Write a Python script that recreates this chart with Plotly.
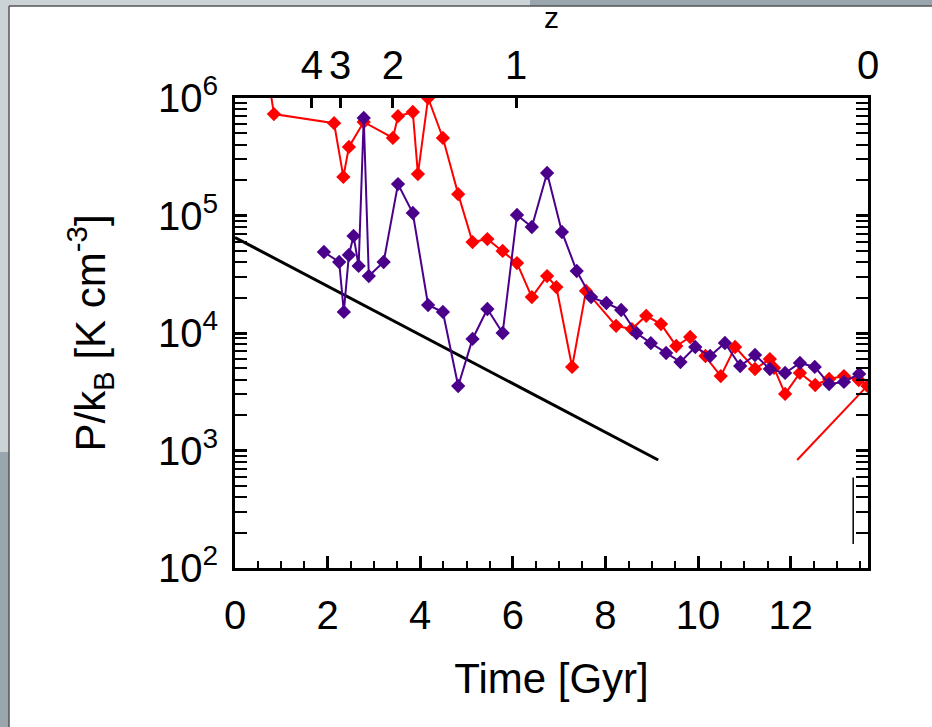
import plotly.graph_objects as go

# ---- data ----
t_red = [0.70, 0.84, 2.14, 2.34, 2.46, 2.78, 3.41, 3.52, 3.84, 3.95, 4.17, 4.49, 4.82, 5.13,
         5.45, 5.78, 6.09, 6.41, 6.74, 6.94, 7.28, 7.58, 8.23, 8.57, 8.88, 9.20, 9.53, 9.83,
         10.16, 10.49, 10.80, 11.23, 11.55, 11.64, 11.88, 12.20, 12.53, 12.83, 13.15, 13.47, 13.66]
p_red = [1.7e6, 7.3e5, 6.1e5, 2.13e5, 3.83e5, 6.25e5, 4.57e5, 7.0e5, 7.6e5, 2.25e5, 1.0e6, 4.57e5,
         1.52e5, 5.94e4, 6.3e4, 4.99e4, 3.94e4, 2.02e4, 3.05e4, 2.46e4, 5.14e3, 2.28e4, 1.15e4,
         1.08e4, 1.40e4, 1.19e4, 7.75e3, 9.25e3, 6.37e3, 4.3e3, 7.6e3, 4.94e3, 6.0e3, 5.04e3,
         3.03e3, 4.57e3, 3.61e3, 4.06e3, 4.3e3, 3.98e3, 3.54e3]

t_purple = [1.92, 2.25, 2.35, 2.46, 2.56, 2.67, 2.78, 2.89, 3.21, 3.52, 3.84, 4.17, 4.49, 4.82,
            5.13, 5.45, 5.78, 6.09, 6.41, 6.74, 7.06, 7.38, 7.69, 8.02, 8.34, 8.67, 8.98, 9.31,
            9.62, 9.94, 10.26, 10.58, 10.91, 11.23, 11.55, 11.88, 12.20, 12.52, 12.83, 13.15, 13.48]
p_purple = [4.89e4, 4.02e4, 1.51e4, 4.61e4, 6.7e4, 3.72e4, 6.76e5, 3.05e4, 4.02e4, 1.85e5, 1.05e5,
            1.73e4, 1.51e4, 3.54e3, 8.9e3, 1.6e4, 1.0e4, 1.01e5, 7.98e4, 2.3e5, 7.24e4, 3.37e4,
            2.02e4, 1.8e4, 1.57e4, 1.0e4, 8.2e3, 6.76e3, 5.66e3, 7.6e3, 6.37e3, 8.22e3, 5.24e3,
            6.5e3, 4.94e3, 4.57e3, 5.56e3, 5.14e3, 3.68e3, 3.83e3, 4.48e3]

t_black = [0.0, 9.14]
p_black = [6.5e4, 8.3e2]

t_redseg = [12.14, 13.67]
p_redseg = [8.3e2, 3.6e3]

t_vert = [13.35, 13.35]
p_vert = [5.9e2, 1.6e2]

z_ticks_t = [1.66, 2.27, 3.41, 6.07, 13.67]
z_labels = ["4", "3", "2", "1", "0"]

x_tickvals = [0, 2, 4, 6, 8, 10, 12]
y_tickvals = [1e2, 1e3, 1e4, 1e5, 1e6]
y_ticktext = ["10<sup>2</sup>", "10<sup>3</sup>", "10<sup>4</sup>", "10<sup>5</sup>", "10<sup>6</sup>"]

x_range = [0, 13.67]
y_range_log = [2, 6]

FONT = "Liberation Sans"

fig = go.Figure()
fig.add_trace(go.Scatter(x=t_black, y=p_black, mode="lines",
                         line=dict(color="black", width=3), showlegend=False))
fig.add_trace(go.Scatter(x=t_red, y=p_red, mode="lines+markers",
                         line=dict(color="#ff0000", width=2),
                         marker=dict(symbol="diamond", size=11, color="#ff0000"),
                         showlegend=False))
fig.add_trace(go.Scatter(x=t_purple, y=p_purple, mode="lines+markers",
                         line=dict(color="#4b008c", width=2),
                         marker=dict(symbol="diamond", size=11, color="#4b008c"),
                         showlegend=False))
fig.add_trace(go.Scatter(x=t_redseg, y=p_redseg, mode="lines",
                         line=dict(color="#ff0000", width=2), showlegend=False))
fig.add_trace(go.Scatter(x=t_vert, y=p_vert, mode="lines",
                         line=dict(color="black", width=1.5), showlegend=False))
# dummy trace for top axis
fig.add_trace(go.Scatter(x=x_range, y=[1e4, 1e4], xaxis="x2", mode="lines",
                         line=dict(width=0), opacity=0, hoverinfo="skip", showlegend=False))

axis_common = dict(showline=True, linecolor="black", linewidth=3, showgrid=False,
                   zeroline=False, ticks="inside", tickcolor="black", tickwidth=3)

fig.update_layout(
    width=932, height=727, autosize=False,
    margin=dict(l=235, r=64, t=98, b=159),
    paper_bgcolor="white", plot_bgcolor="white",
    font=dict(family=FONT, color="black"),
    xaxis=dict(range=x_range, tickmode="array", tickvals=x_tickvals,
               ticklen=12, tickfont=dict(size=40), ticklabelstandoff=10,
               minor=dict(ticks="inside", ticklen=7, tickwidth=2, tickcolor="black", dtick=0.5),
               title=dict(text="Time [Gyr]", font=dict(size=42), standoff=28),
               mirror=False, **axis_common),
    xaxis2=dict(range=x_range, overlaying="x", side="top", tickmode="array",
                tickvals=z_ticks_t, ticktext=z_labels, ticklen=10,
                tickfont=dict(size=40),
                title=dict(text="z", font=dict(size=30), standoff=6),
                **axis_common),
    yaxis=dict(type="log", range=y_range_log, tickmode="array", tickvals=y_tickvals,
               ticktext=y_ticktext, ticklen=12, tickfont=dict(size=40), ticklabelstandoff=6,
               minor=dict(ticks="inside", ticklen=7, tickwidth=2, tickcolor="black",
                          tickvals=[a * 10 ** b for b in range(2, 6) for a in range(2, 10)]),
               title=dict(text="P/k<sub>B</sub> [K cm<sup>-3</sup>]", font=dict(size=42),
                          standoff=40),
               mirror="allticks", **axis_common),
)


def px(x):
    return (x - 235) / 633


def py(y):
    return (568 - y) / 470


shapes = [
    # window frame strips
    dict(type="rect", xref="paper", yref="paper", x0=px(0), x1=px(530), y0=py(6), y1=py(0),
         fillcolor="#cbd3d6", line=dict(width=0), layer="below"),
    dict(type="rect", xref="paper", yref="paper", x0=px(530), x1=px(932), y0=py(6), y1=py(0),
         fillcolor="#9aa6ad", line=dict(width=0), layer="below"),
    dict(type="rect", xref="paper", yref="paper", x0=px(0), x1=px(9), y0=py(452), y1=py(6),
         fillcolor="#cbd3d6", line=dict(width=0), layer="below"),
    dict(type="rect", xref="paper", yref="paper", x0=px(0), x1=px(9), y0=py(727), y1=py(452),
         fillcolor="#9aa6ad", line=dict(width=0), layer="below"),
    dict(type="line", xref="paper", yref="paper", x0=px(9), x1=px(932), y0=py(6), y1=py(6),
         line=dict(color="#555555", width=1.5)),
    dict(type="line", xref="paper", yref="paper", x0=px(9), x1=px(9), y0=py(6), y1=py(727),
         line=dict(color="#555555", width=1.5)),
]
fig.update_layout(shapes=shapes)

fig.write_html("out.html", config={"displayModeBar": False},
               post_script="document.body.style.margin='0px';document.body.style.overflow='hidden';")
